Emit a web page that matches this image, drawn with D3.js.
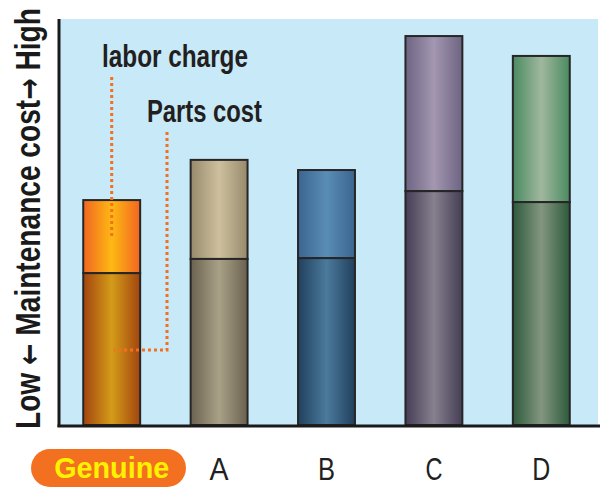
<!DOCTYPE html>
<html lang="en">
<head>
    <meta charset="UTF-8">
    <title>Maintenance cost comparison</title>
    <script src="https://d3js.org/d3.v7.min.js"></script>
    <style>
        body { margin: 0; background: #fff; }
        .cond { font-family: "Liberation Sans", Arial, Helvetica, sans-serif; }
        .arrow { font-family: "DejaVu Sans", sans-serif; }
    </style>
</head>
<body>
<svg width="600" height="489"></svg>

<script>
    // data (arbitrary cost units, 0..100 = plot height)
    const categories = ["Genuine", "A", "B", "C", "D"];
    const partsCost = [37.4, 40.9, 41.1, 57.6, 54.9];
    const laborCharge = [18.0, 24.4, 21.7, 38.2, 36.0];

    // gradient colours per bar: [edge, centre]
    const partsColors = [["#a3440f", "#d49c18"], ["#6a6250", "#a9a186"], ["#21405e", "#4b7a9c"],
                         ["#453e55", "#86808f"], ["#2d5a3b", "#83967f"]];
    const laborColors = [["#f26522", "#fdb913"], ["#978a6c", "#cec09e"], ["#3a6590", "#5a8db5"],
                         ["#6d6482", "#a397b1"], ["#4a8a60", "#a0b89e"]];

    // y title pieces: [text, isArrow]
    const yTitleParts = [["Low ", false], ["\u2190", true], [" Maintenance cost", false], ["\u2192", true], [" High", false]];
    const labelWidths = [115, 19, 17, 17, 18];   // condensed look via textLength

    const svg = d3.select("svg");
    const defs = svg.append("defs");

    const x = d3.scaleBand()
        .domain(categories)
        .range([58, 595])
        .paddingInner(0.47)
        .paddingOuter(0.235);

    const y = d3.scaleLinear()
        .domain([0, 100])
        .range([425, 19]);

    // plot background
    svg.append("rect")
        .attr("x", 59).attr("y", y(100))
        .attr("width", 598 - 59).attr("height", y(0) - y(100))
        .attr("fill", "#c8e9f8");

    function grad(id, c) {
        const g = defs.append("linearGradient").attr("id", id)
            .attr("x1", "0%").attr("x2", "100%").attr("y1", "0%").attr("y2", "0%");
        g.append("stop").attr("offset", "0%").attr("stop-color", c[0]);
        g.append("stop").attr("offset", "50%").attr("stop-color", c[1]);
        g.append("stop").attr("offset", "100%").attr("stop-color", c[0]);
    }
    categories.forEach((c, i) => {
        grad("p" + i, partsColors[i]);
        grad("l" + i, laborColors[i]);
    });

    const rows = categories.map((c, i) => ({ cat: c, i: i, parts: partsCost[i], labor: laborCharge[i] }));

    const bars = svg.append("g").selectAll("g").data(rows).join("g");

    // labor charge (upper segment)
    bars.append("rect")
        .attr("x", d => x(d.cat))
        .attr("y", d => y(d.parts + d.labor))
        .attr("width", x.bandwidth())
        .attr("height", d => y(d.parts) - y(d.parts + d.labor))
        .attr("fill", d => "url(#l" + d.i + ")")
        .attr("stroke", "#262626").attr("stroke-width", 2);

    // parts cost (lower segment)
    bars.append("rect")
        .attr("x", d => x(d.cat))
        .attr("y", d => y(d.parts))
        .attr("width", x.bandwidth())
        .attr("height", d => y(0) - y(d.parts))
        .attr("fill", d => "url(#p" + d.i + ")")
        .attr("stroke", "#262626").attr("stroke-width", 2);

    // axes lines
    svg.append("line")
        .attr("x1", 59).attr("x2", 59).attr("y1", y(100)).attr("y2", 427)
        .attr("stroke", "#1a1a1a").attr("stroke-width", 3);
    svg.append("line")
        .attr("x1", 57.5).attr("x2", 600).attr("y1", 426).attr("y2", 426)
        .attr("stroke", "#1a1a1a").attr("stroke-width", 3);

    // callout lines
    const g0 = rows[0];
    const cx = x(g0.cat) + x.bandwidth() / 2;
    svg.append("path")
        .attr("d", `M${cx},77 V${y(g0.parts + g0.labor / 2) + 2}`)
        .attr("fill", "none").attr("stroke", "#f37021")
        .attr("stroke-width", 3).attr("stroke-dasharray", "3,3");
    svg.append("path")
        .attr("d", `M167,132 V350 H${cx + 2}`)
        .attr("fill", "none").attr("stroke", "#f37021")
        .attr("stroke-width", 3).attr("stroke-dasharray", "3,3");

    svg.append("text").attr("class", "cond")
        .attr("x", 102).attr("y", 67)
        .attr("textLength", 146).attr("lengthAdjust", "spacingAndGlyphs")
        .attr("font-size", 31).attr("font-weight", "bold").attr("fill", "#231f20")
        .text("labor charge");
    svg.append("text").attr("class", "cond")
        .attr("x", 147).attr("y", 122)
        .attr("textLength", 115).attr("lengthAdjust", "spacingAndGlyphs")
        .attr("font-size", 31).attr("font-weight", "bold").attr("fill", "#231f20")
        .text("Parts cost");

    // y title, squeezed to 421px with a horizontal scale
    const title = svg.append("text").attr("class", "cond")
        .attr("x", 0).attr("y", 0)
        .attr("font-size", 35).attr("font-weight", "bold").attr("fill", "#1a1a1a");
    title.selectAll("tspan").data(yTitleParts).join("tspan")
        .attr("class", d => d[1] ? "arrow" : null)
        .attr("font-size", d => d[1] ? 32 : null)
        .text(d => d[0]);
    const natural = title.node().getComputedTextLength();
    title.attr("transform", `translate(40,429) rotate(-90) scale(${421 / natural},1)`);

    // category labels
    svg.append("rect")
        .attr("x", 31).attr("y", 449).attr("width", 155).attr("height", 38)
        .attr("rx", 19).attr("fill", "#f37021");
    svg.append("g").selectAll("text").data(categories).join("text")
        .attr("class", "cond")
        .attr("x", d => x(d) + x.bandwidth() / 2)
        .attr("y", (d, i) => i === 0 ? 478 : 480)
        .attr("text-anchor", "middle")
        .attr("font-size", (d, i) => i === 0 ? 30 : 32)
        .attr("font-weight", (d, i) => i === 0 ? "bold" : "normal")
        .attr("fill", (d, i) => i === 0 ? "#fff200" : "#231f20")
        .attr("textLength", (d, i) => labelWidths[i])
        .attr("lengthAdjust", "spacingAndGlyphs")
        .text(d => d);
</script>
</body>
</html>
